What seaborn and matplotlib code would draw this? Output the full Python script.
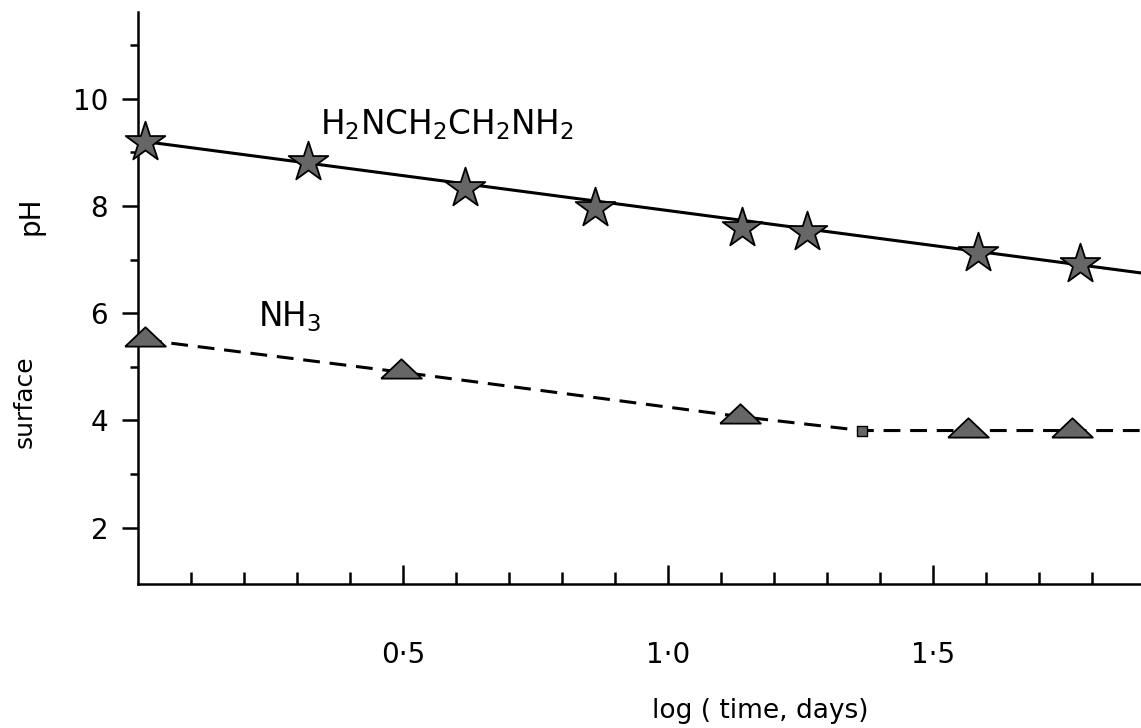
import numpy as np
import matplotlib
matplotlib.use('Agg')
import matplotlib.pyplot as plt
import seaborn as sns

# values
# H2NCH2CH2NH2 (stars) and the straight line through them
star_x = [0.013, 0.321, 0.617, 0.862, 1.140, 1.262, 1.585, 1.776]
star_ph = [9.20, 8.82, 8.34, 7.97, 7.59, 7.52, 7.13, 6.92]
fit_x = [0.013, 1.892]
fit_ph = [9.20, 6.75]

# NH3 (triangles) and the dashed curve
nh3_x = [0.013, 0.496, 1.136, 1.566, 1.762]
nh3_ph = [5.50, 4.90, 4.07, 3.81, 3.81]
curve_x = [0.013, 0.496, 1.136, 1.366, 1.566, 1.762, 1.892]
curve_ph = [5.50, 4.90, 4.07, 3.81, 3.81, 3.81, 3.81]
small_x = [1.366]
small_ph = [3.81]

x_major = [0.5, 1.0, 1.5]
x_labels = ['0·5', '1·0', '1·5']
x_minor = [i / 10 for i in range(1, 19) if i % 5]
y_major = [2, 4, 6, 8, 10]
y_labels = ['2', '4', '6', '8', '10']
y_minor = [3, 5, 7, 9, 11]

sns.set_theme(style='white')
plt.rcParams['font.family'] = ['DejaVu Sans']
plt.rcParams['mathtext.fontset'] = 'dejavusans'
plt.rcParams['text.color'] = 'black'
plt.rcParams['xtick.color'] = 'black'
plt.rcParams['ytick.color'] = 'black'
plt.rcParams['axes.labelcolor'] = 'black'

fig = plt.figure(figsize=(11.41, 7.28), dpi=100)
ax = fig.add_axes([0.121, 0.198, 0.879, 0.7857])

fill = '#666666'
# flat triangle, line passes through its lower part
tri = [(-1, -0.3), (1, -0.3), (0, 0.65), (-1, -0.3)]

sns.lineplot(x=fit_x, y=fit_ph, ax=ax, color='black', linewidth=2.2)
sns.lineplot(x=curve_x, y=curve_ph, ax=ax, color='black', linewidth=2.2)
ax.lines[-1].set_dashes((5.5, 3.2))

sns.scatterplot(x=star_x, y=star_ph, ax=ax, marker='*', s=900, color=fill,
                edgecolor='black', linewidth=1.3, zorder=3, clip_on=False)
sns.scatterplot(x=nh3_x, y=nh3_ph, ax=ax, marker=tri, s=860, color=fill,
                edgecolor='black', linewidth=1.3, zorder=3, clip_on=False)
sns.scatterplot(x=small_x, y=small_ph, ax=ax, marker='s', s=45, color=fill,
                edgecolor='black', linewidth=1, zorder=3)

ax.set_xlim(0, 1.892)
ax.set_ylim(0.95, 11.62)

ax.set_xticks(x_major)
ax.set_xticklabels(x_labels)
ax.set_xticks(x_minor, minor=True)
ax.set_yticks(y_major)
ax.set_yticklabels(y_labels)
ax.set_yticks(y_minor, minor=True)

ax.tick_params(axis='x', which='major', direction='in', length=14, width=1.8,
               pad=41, labelsize=20)
ax.tick_params(axis='x', which='minor', direction='in', length=9, width=1.8)
ax.tick_params(axis='y', which='major', direction='out', length=11.5, width=1.8,
               pad=10, labelsize=20)
ax.tick_params(axis='y', which='minor', direction='out', length=6, width=1.8)
ax.xaxis.set_ticks_position('bottom')
ax.yaxis.set_ticks_position('left')

sns.despine(ax=ax)
for side in ['left', 'bottom']:
    ax.spines[side].set_color('black')
    ax.spines[side].set_linewidth(1.8)

ax.set_xlabel('log ( time, days)', fontsize=19)
ax.xaxis.set_label_coords(0.62, -0.2)
ax.text(-0.1127, 0.318, 'surface', transform=ax.transAxes, rotation=90,
        ha='center', va='center', fontsize=18)
ax.text(-0.1077, 0.643, 'pH', transform=ax.transAxes, rotation=90,
        ha='center', va='center', fontsize=20)

ax.text(0.343, 9.33, r'H$_2$NCH$_2$CH$_2$NH$_2$', fontsize=23.5,
        ha='left', va='baseline')
ax.text(0.226, 5.75, r'NH$_3$', fontsize=23.5, ha='left', va='baseline')

plt.savefig('out.png', dpi=100)
